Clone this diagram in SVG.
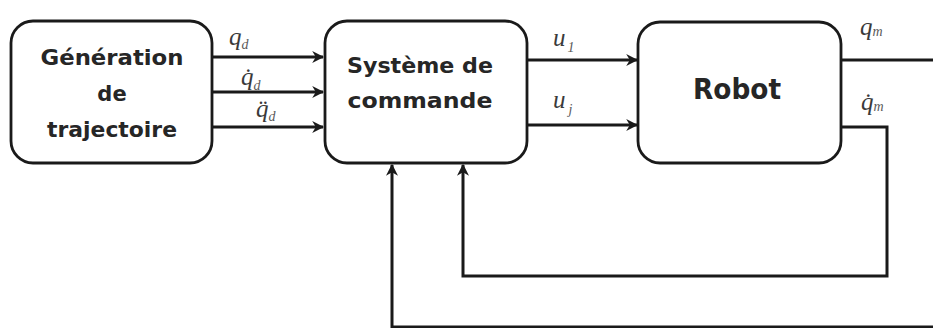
<svg xmlns="http://www.w3.org/2000/svg" width="933" height="328" viewBox="0 0 933 328">
  <style>
    .box { fill: #ffffff; stroke: #1a1a1a; stroke-width: 2.8; }
    .lbl { font-family: "DejaVu Sans", "Open Sans", sans-serif; font-weight: bold; fill: #262626; text-anchor: middle; font-size: 21px; }
    .big { font-size: 29px; }
    .wire { fill: none; stroke: #1a1a1a; stroke-width: 3; }
    .math { font-family: "Liberation Serif", "DejaVu Serif", serif; font-style: italic; fill: #3a3a3a; font-size: 25px; }
    .sub { font-family: "Liberation Serif", "DejaVu Serif", serif; font-style: italic; fill: #5a5a5a; font-size: 14px; }
  </style>
  <defs>
    <marker id="arrow" viewBox="0 0 10 10" refX="9" refY="5" markerWidth="4" markerHeight="4" markerUnits="strokeWidth" orient="auto">
      <path d="M0,0 L10,5 L0,10 L3,5 Z" fill="#1a1a1a"/>
    </marker>
  </defs>
  <rect width="933" height="328" fill="#ffffff"/>

  <!-- connectors -->
  <g id="connectors">
    <line class="wire" x1="212" y1="57" x2="323" y2="57" marker-end="url(#arrow)"/>
    <line class="wire" x1="212" y1="92" x2="323" y2="92" marker-end="url(#arrow)"/>
    <line class="wire" x1="212" y1="127" x2="323" y2="127" marker-end="url(#arrow)"/>
    <line class="wire" x1="527" y1="60" x2="637" y2="60" marker-end="url(#arrow)"/>
    <line class="wire" x1="527" y1="125" x2="637" y2="125" marker-end="url(#arrow)"/>
    <line class="wire" x1="841" y1="60" x2="933" y2="60"/>
    <polyline class="wire" points="841,127 887,127 887,276 463,276 463,165" marker-end="url(#arrow)"/>
    <polyline class="wire" points="933,327 392,327 392,165" marker-end="url(#arrow)"/>
  </g>

  <!-- signal labels -->
  <g id="signals">
    <text x="229" y="45"><tspan class="math">q</tspan><tspan class="sub" dy="4">d</tspan></text>
    <text x="241" y="85"><tspan class="math">q̇</tspan><tspan class="sub" dy="5">d</tspan></text>
    <text x="256" y="117"><tspan class="math">q̈</tspan><tspan class="sub" dy="4">d</tspan></text>
    <text x="553" y="46"><tspan class="math">u</tspan><tspan class="sub" dx="2" dy="6" font-style="normal">1</tspan></text>
    <text x="553" y="108"><tspan class="math">u</tspan><tspan class="sub" dx="3" dy="6">j</tspan></text>
    <text x="860" y="35"><tspan class="math">q</tspan><tspan class="sub" dy="1">m</tspan></text>
    <text x="861" y="110"><tspan class="math">q̇</tspan><tspan class="sub" dy="1">m</tspan></text>
  </g>

  <g id="generation">
    <rect class="box" x="11" y="21" width="201" height="142" rx="22"/>
    <text class="lbl" x="112" y="65" textLength="143" lengthAdjust="spacingAndGlyphs">Génération</text>
    <text class="lbl" x="112" y="101">de</text>
    <text class="lbl" x="112" y="137" textLength="130" lengthAdjust="spacingAndGlyphs">trajectoire</text>
  </g>

  <g id="commande">
    <rect class="box" x="325" y="21" width="202" height="142" rx="22"/>
    <text class="lbl" x="420" y="73" textLength="146" lengthAdjust="spacingAndGlyphs">Système de</text>
    <text class="lbl" x="420" y="108" textLength="145" lengthAdjust="spacingAndGlyphs">commande</text>
  </g>

  <g id="robot">
    <rect class="box" x="638" y="22" width="203" height="141" rx="22"/>
    <text class="lbl big" x="737" y="99" textLength="88" lengthAdjust="spacingAndGlyphs">Robot</text>
  </g>
</svg>
